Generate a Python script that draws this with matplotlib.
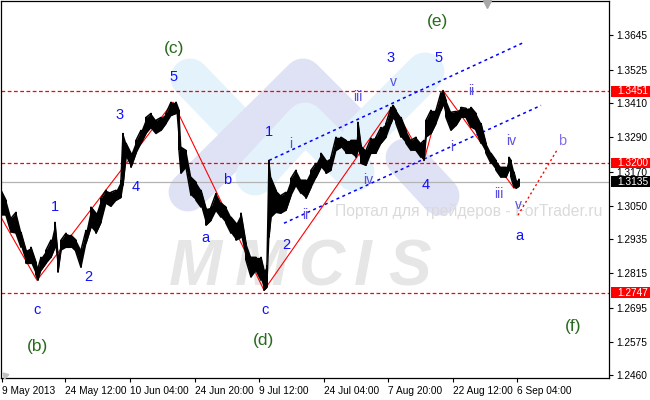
import matplotlib
matplotlib.use("Agg")
import matplotlib.pyplot as plt
from matplotlib.patches import Rectangle
from matplotlib.transforms import Affine2D, blended_transform_factory

# ---------------- data ----------------
bars = [0, 5, 10, 15, 20, 25, 30, 35, 37, 40, 45, 50, 54, 57, 60, 65, 70, 75, 80, 85,
        90, 95, 100, 105, 110, 115, 120, 122, 125, 130, 135, 140, 145, 150, 155, 160,
        165, 170, 175, 178, 180, 185, 190, 195, 200, 205, 210, 215, 220, 225, 230, 235,
        240, 245, 250, 255, 260, 263, 266, 268, 270, 275, 280, 285, 290, 295, 300, 305,
        310, 315, 320, 325, 330, 335, 340, 345, 350, 355, 357, 360, 365, 370, 375, 380,
        385, 390, 392, 395, 400, 405, 410, 415, 420, 423, 425, 430, 435, 440, 442, 445,
        450, 455, 460, 465, 470, 475, 480, 485, 490, 495, 500, 505, 508, 510, 513, 515, 518]
highs = [1.3105, 1.3070, 1.3007, 1.3028, 1.2958, 1.2896, 1.2906, 1.2854, 1.2833, 1.2871,
         1.2896, 1.2931, 1.2993, 1.2878, 1.2931, 1.2955, 1.2948, 1.2931, 1.2896, 1.2965,
         1.3046, 1.3025, 1.3077, 1.3105, 1.3098, 1.3105, 1.3140, 1.3303, 1.3269, 1.3234,
         1.3279, 1.3314, 1.3359, 1.3373, 1.3349, 1.3359, 1.3373, 1.3412, 1.3412, 1.3384,
         1.3255, 1.3244, 1.3150, 1.3133, 1.3105, 1.3042, 1.3046, 1.3094, 1.3060, 1.3046,
         1.3011, 1.2990, 1.3025, 1.2920, 1.2871, 1.2871, 1.2871, 1.2826, 1.2843, 1.3209,
         1.3147, 1.3105, 1.3087, 1.3098, 1.3147, 1.3175, 1.3140, 1.3140, 1.3175, 1.3199,
         1.3234, 1.3209, 1.3220, 1.3290, 1.3290, 1.3279, 1.3279, 1.3279, 1.3342, 1.3262,
         1.3244, 1.3286, 1.3290, 1.3324, 1.3338, 1.3394, 1.3401, 1.3384, 1.3359, 1.3314,
         1.3279, 1.3290, 1.3269, 1.3279, 1.3349, 1.3384, 1.3384, 1.3446, 1.3453, 1.3419,
         1.3377, 1.3380, 1.3394, 1.3391, 1.3394, 1.3373, 1.3338, 1.3269, 1.3234, 1.3209,
         1.3185, 1.3185, 1.3220, 1.3209, 1.3168, 1.3140, 1.3143]
lows = [1.3018, 1.3018, 1.2958, 1.2955, 1.2906, 1.2850, 1.2850, 1.2809, 1.2791, 1.2826,
        1.2850, 1.2871, 1.2906, 1.2819, 1.2896, 1.2906, 1.2906, 1.2889, 1.2836, 1.2920,
        1.2976, 1.2955, 1.2993, 1.3060, 1.3049, 1.3070, 1.3080, 1.3122, 1.3220, 1.3185,
        1.3234, 1.3269, 1.3303, 1.3324, 1.3303, 1.3314, 1.3338, 1.3366, 1.3373, 1.3244,
        1.3164, 1.3185, 1.3087, 1.3070, 1.3046, 1.2983, 1.3000, 1.3035, 1.3011, 1.2990,
        1.2955, 1.2931, 1.2941, 1.2861, 1.2802, 1.2826, 1.2791, 1.2756, 1.2767, 1.2941,
        1.3011, 1.3028, 1.3025, 1.3035, 1.3087, 1.3122, 1.3094, 1.3077, 1.3115, 1.3150,
        1.3185, 1.3164, 1.3175, 1.3244, 1.3255, 1.3234, 1.3234, 1.3220, 1.3244, 1.3199,
        1.3192, 1.3234, 1.3234, 1.3269, 1.3290, 1.3338, 1.3356, 1.3338, 1.3290, 1.3269,
        1.3244, 1.3244, 1.3220, 1.3209, 1.3290, 1.3303, 1.3338, 1.3384, 1.3401, 1.3359,
        1.3314, 1.3331, 1.3359, 1.3359, 1.3324, 1.3314, 1.3269, 1.3234, 1.3199, 1.3175,
        1.3150, 1.3150, 1.3175, 1.3150, 1.3115, 1.3112, 1.3119]

wave_x = [0, 36, 172, 263, 392, 423, 442, 513]
wave_y = [1.3011, 1.2791, 1.3412, 1.2756, 1.3401, 1.3209, 1.3453, 1.3112]
proj_x = [517, 557]
proj_y = [1.3018, 1.3251]
chan_up_x = [268, 523]
chan_up_y = [1.3209, 1.3621]
chan_lo_x = [283, 540]
chan_lo_y = [1.2990, 1.3401]

red_levels = [1.3451, 1.3200, 1.2747]
last_price = 1.3135

ytick_vals = [1.3645, 1.3525, 1.3410, 1.3290, 1.3170, 1.3050, 1.2935, 1.2815,
              1.2695, 1.2575, 1.2460]
xtick_pos = [1, 64, 129, 194, 258, 323, 387, 452, 516]
xtick_labels = ["9 May 2013", "24 May 12:00", "10 Jun 04:00", "24 Jun 20:00",
                "9 Jul 12:00", "24 Jul 04:00", "7 Aug 20:00", "22 Aug 12:00",
                "6 Sep 04:00"]

label_text = ["1", "2", "3", "4", "5", "c", "(b)", "(c)", "a", "b", "c", "(d)",
              "1", "2", "i", "ii", "iii", "iv", "v", "3", "4", "5", "(e)",
              "i", "ii", "iii", "iv", "v", "a", "b", "(f)"]
label_bar = [54, 87, 119, 135, 173, 36, 37, 173, 204, 226, 264, 262,
             268, 285, 290, 304, 357, 367, 392, 390, 425, 438, 437,
             451, 470, 498, 510, 517, 518, 561, 572]
label_price = [1.3046, 1.2802, 1.3366, 1.3115, 1.3499, 1.2687, 1.2561, 1.3600,
               1.2938, 1.3140, 1.2687, 1.2582,
               1.3307, 1.2913, 1.3265, 1.3018, 1.3432, 1.3140, 1.3481, 1.3568,
               1.3122, 1.3568, 1.3694,
               1.3255, 1.3450, 1.3091, 1.3276, 1.3053, 1.2945, 1.3276, 1.2631]
label_kind = ["n", "n", "n", "n", "n", "n", "g", "g", "n", "n", "n", "g",
              "n", "n", "r", "r", "r", "r", "r", "n", "n", "n", "g",
              "r", "r", "r", "r", "r", "n", "p", "g"]

# ---------------- figure ----------------
W, H = 650, 400
fig = plt.figure(figsize=(W / 100, H / 100), dpi=100, facecolor="white")
ax = fig.add_axes([1 / W, 22 / H, 608 / W, 377.5 / H])
ax.set_facecolor("white")
ax.set_xlim(0, 608)
ax.set_ylim(1.2450, 1.3767)

px = Affine2D().scale(1, -1).translate(0, H)  # figure pixels, origin top-left

# watermark logo
LB, LV = "#e4f2fb", "#dfe2f4"
strokes = [
    (LB, [(190, 78), (245, 135)]),
    (LV, [(188, 192), (303, 78), (362, 137)]),
    (LB, [(255, 176), (305, 122), (355, 172)]),
    (LB, [(425, 72), (362, 135)]),
    (LV, [(405, 158), (440, 196)]),
]
for col, pts in strokes:
    xs = [p[0] for p in pts]
    ys = [p[1] for p in pts]
    ax.plot(xs, ys, transform=px, color=col, lw=28, solid_capstyle="round",
            solid_joinstyle="round", zorder=0)
for ch, cx in zip("MMCIS", [196, 262, 322, 363, 410]):
    ax.text(cx, 268, ch, transform=px, fontsize=46, fontweight="bold",
            fontstyle="italic", color="#e6e6e6", ha="center", va="center",
            family="Liberation Sans", zorder=0.5)
ax.text(335, 211, "Портал для трейдеров - ForTrader.ru", transform=px,
        fontsize=11.3, color="#dadada", ha="left", va="center",
        family="Liberation Sans", zorder=0.6, clip_on=True)

# levels
for lv in red_levels:
    ax.axhline(lv, color="red", lw=0.9, ls=(0, (3, 2)), zorder=1)
ax.axhline(last_price, color="#b4b4b4", lw=0.9, zorder=1)

# channel & wave lines
ax.plot(chan_up_x, chan_up_y, color="blue", lw=1.1, ls=(0, (2, 2.2)), zorder=2)
ax.plot(chan_lo_x, chan_lo_y, color="blue", lw=1.1, ls=(0, (2, 2.2)), zorder=2)
ax.plot(wave_x, wave_y, color="red", lw=0.8, zorder=2)
ax.plot(proj_x, proj_y, color="red", lw=1.0, ls=(0, (1.5, 2)), zorder=2)

# price bars: high-low range bars joined bar to bar
zig_x, zig_y = [], []
for i, b in enumerate(bars):
    if i % 2 == 0:
        zig_x += [b, b]
        zig_y += [lows[i], highs[i]]
    else:
        zig_x += [b, b]
        zig_y += [highs[i], lows[i]]
ax.fill_between(bars, lows, highs, color="black", lw=0, zorder=3)
ax.plot(zig_x, zig_y, color="black", lw=1.1, zorder=3)
ax.vlines(bars, lows, highs, color="black", lw=1.4, zorder=3)

# wave labels
colors = {"n": "#1010ff", "r": "#5a4fe0", "p": "#8070ee", "g": "#276b1b"}
sizes = {"n": 10.5, "r": 10, "p": 10.5, "g": 12.5}
for t, xb, yp, k in zip(label_text, label_bar, label_price, label_kind):
    ax.text(xb, yp, t, color=colors[k], fontsize=sizes[k], ha="center",
            va="center", family="Liberation Sans", zorder=4)

# axes styling
for s in ax.spines.values():
    s.set_color("black")
    s.set_linewidth(0.9)
ax.yaxis.tick_right()
ax.set_yticks(ytick_vals)
ax.set_yticklabels([f"{v:.4f}" for v in ytick_vals])
ax.set_xticks(xtick_pos)
ax.set_xticklabels(xtick_labels)
ax.tick_params(axis="y", direction="out", length=3, width=0.8, pad=2.5,
               labelsize=7.3, colors="black")
ax.tick_params(axis="x", direction="out", length=3, width=0.8, pad=2.5,
               labelsize=7.3, colors="black")
for lbl in ax.get_xticklabels() + ax.get_yticklabels():
    lbl.set_family("Liberation Sans")
for lbl in ax.get_xticklabels():
    lbl.set_horizontalalignment("left")

# price badges
yT = ax.get_yaxis_transform()
badges = [(1.3451, "red"), (1.3200, "red"), (1.3135, "black"), (1.2747, "red")]
for lv, bg in badges:
    ax.add_patch(Rectangle((1.0033, lv - 0.0019), 0.08, 0.0038, transform=yT,
                           facecolor=bg, edgecolor="none", clip_on=False, zorder=5))
    ax.text(1.0135, lv, f"{lv:.4f}", transform=yT, color="white", fontsize=7.3,
            ha="left", va="center", family="Liberation Sans", zorder=6,
            clip_on=False)

# chart-shift marker at top, scale marker at bottom-left
bt = blended_transform_factory(ax.transData, ax.transAxes)
ax.plot([486], [0.992], marker="v", color="#a8a8a8", ms=6, transform=bt,
        clip_on=False, zorder=6)
ax.plot([0.006], [0.008], marker=(3, 0, 45), color="#c0c0c0", ms=5,
        transform=ax.transAxes, clip_on=False, zorder=6)

fig.savefig("out.png", dpi=100, facecolor="white")
